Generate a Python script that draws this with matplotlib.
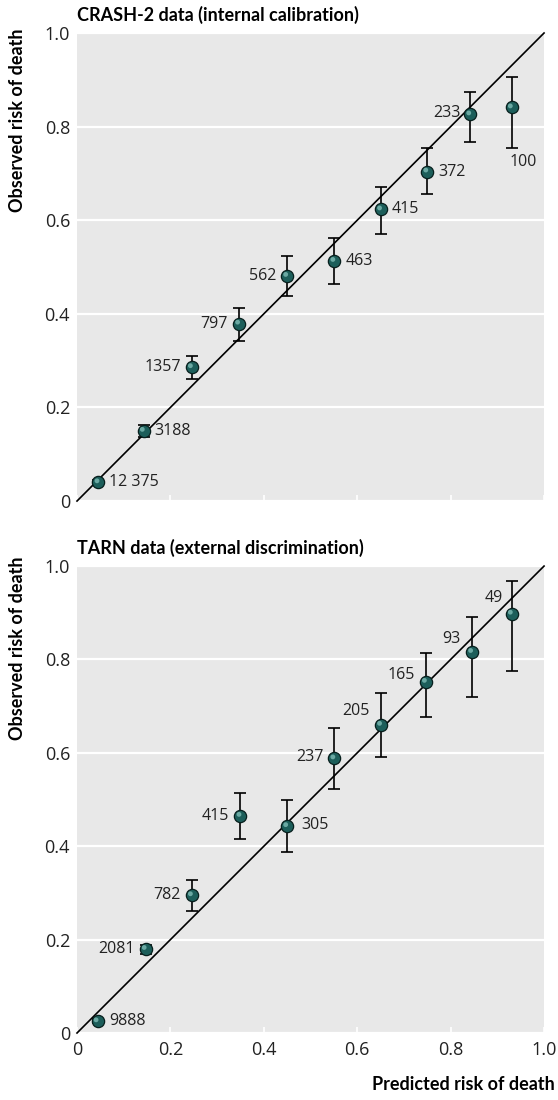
import numpy as np
import matplotlib
matplotlib.use("Agg")
import matplotlib.pyplot as plt
from matplotlib.transforms import offset_copy

plt.rcParams['font.family'] = ['Lato', 'DejaVu Sans']
NUMFONT = ['Open Sans', 'DejaVu Sans']

# CRASH-2 (internal calibration)
crash_pred = [0.046, 0.143, 0.246, 0.347, 0.450, 0.551, 0.651, 0.750, 0.842, 0.931]
crash_obs = [0.040, 0.150, 0.286, 0.379, 0.481, 0.513, 0.623, 0.704, 0.826, 0.841]
crash_lo = [0.036, 0.137, 0.261, 0.343, 0.439, 0.464, 0.571, 0.655, 0.768, 0.755]
crash_hi = [0.044, 0.163, 0.309, 0.413, 0.524, 0.561, 0.671, 0.755, 0.875, 0.907]
crash_n = ['12 375', '3188', '1357', '797', '562', '463', '415', '372', '233', '100']

# TARN (external discrimination)
tarn_pred = [0.044, 0.147, 0.246, 0.350, 0.450, 0.551, 0.651, 0.747, 0.846, 0.931]
tarn_obs = [0.025, 0.180, 0.295, 0.465, 0.443, 0.588, 0.660, 0.752, 0.816, 0.898]
tarn_lo = [0.021, 0.170, 0.262, 0.416, 0.387, 0.523, 0.592, 0.677, 0.719, 0.776]
tarn_hi = [0.029, 0.189, 0.327, 0.514, 0.498, 0.654, 0.729, 0.814, 0.891, 0.967]
tarn_n = ['9888', '2081', '782', '415', '305', '237', '205', '165', '93', '49']

# label offsets in pixels (dx, dy, ha)
crash_pos = [(11, 0, 'left'), (11, 0, 'left'), (-11, 0, 'right'), (-11, 0, 'right'),
             (-11, 0, 'right'), (11, 0, 'left'), (11, 0, 'left'), (11, 0, 'left'),
             (-10, 1, 'right'), (-2, -55, 'left')]
tarn_pos = [(12, 0, 'left'), (-11, 0, 'right'), (-11, 0, 'right'), (-11, 0, 'right'),
            (14, 1, 'left'), (-11, 1, 'right'), (-11, 14, 'right'), (-11, 7, 'right'),
            (-12, 13, 'right'), (-9, 16, 'right')]

BG = '#e8e8e8'
DOT = '#1c5e5a'
TICKS = [0, 0.2, 0.4, 0.6, 0.8, 1.0]
TICK_LABELS = ['0', '0.2', '0.4', '0.6', '0.8', '1.0']


def draw_panel(ax, pred, obs, lo, hi, labels, pos, title):
    ax.set_facecolor(BG)
    for s in ax.spines.values():
        s.set_visible(False)
    ax.set_xlim(0, 1)
    ax.set_ylim(0, 1)
    ax.set_yticks(TICKS)
    ax.set_yticklabels(TICK_LABELS, family=NUMFONT)
    ax.set_xticks(TICKS)
    ax.grid(axis='y', color='white', linewidth=1.6)
    ax.set_axisbelow(True)
    ax.tick_params(axis='y', length=0, labelsize=13, labelcolor='#222222', pad=5)
    ax.tick_params(axis='x', direction='in', length=4, width=1.2, color='white',
                   labelsize=13, labelcolor='#222222', pad=6)

    ax.plot([0, 1], [0, 1], color='black', linewidth=1.2, clip_on=False, zorder=2)

    pred = np.array(pred)
    obs = np.array(obs)
    yerr = [obs - np.array(lo), np.array(hi) - obs]
    ax.errorbar(pred, obs, yerr=yerr, fmt='none', ecolor='black', elinewidth=1.2,
                capsize=4, capthick=1.2, zorder=3)
    ax.scatter(pred, obs, s=78, color=DOT, edgecolor='#071f1d', linewidth=0.9, zorder=4)
    hl = offset_copy(ax.transData, fig=ax.figure, x=-1.5, y=1.5, units='dots')
    ax.scatter(pred, obs, s=12, color='#7fbdb6', edgecolor='none', alpha=0.8,
               transform=hl, zorder=5)

    for x, y, lab, (dx, dy, ha) in zip(pred, obs, labels, pos):
        ax.annotate(lab, (x, y), xytext=(dx, dy), textcoords='offset pixels',
                    ha=ha, va='center', fontsize=11.5, color='#222222',
                    family=NUMFONT, zorder=6)

    ax.set_title(title, loc='left', fontsize=13, fontweight='bold', pad=9)


fig = plt.figure(figsize=(5.58, 11), dpi=100)
ax1 = fig.add_axes([0.138, 0.5445, 0.837, 0.4255])
ax2 = fig.add_axes([0.138, 0.0609, 0.837, 0.4245])

draw_panel(ax1, crash_pred, crash_obs, crash_lo, crash_hi, crash_n, crash_pos,
           'CRASH-2 data (internal calibration)')
draw_panel(ax2, tarn_pred, tarn_obs, tarn_lo, tarn_hi, tarn_n, tarn_pos,
           'TARN data (external discrimination)')
ax1.set_xticklabels([])
ax2.set_xticklabels(TICK_LABELS, family=NUMFONT)

fig.text(18 / 558, 1 - 28 / 1100, 'Observed risk of death', rotation=90,
         ha='center', va='top', fontsize=13, fontweight='bold')
fig.text(18 / 558, 1 - 557 / 1100, 'Observed risk of death', rotation=90,
         ha='center', va='top', fontsize=13, fontweight='bold')
fig.text(555 / 558, 1 - 1090 / 1100, 'Predicted risk of death',
         ha='right', va='baseline', fontsize=13, fontweight='bold')

fig.savefig('out.png', dpi=100)
